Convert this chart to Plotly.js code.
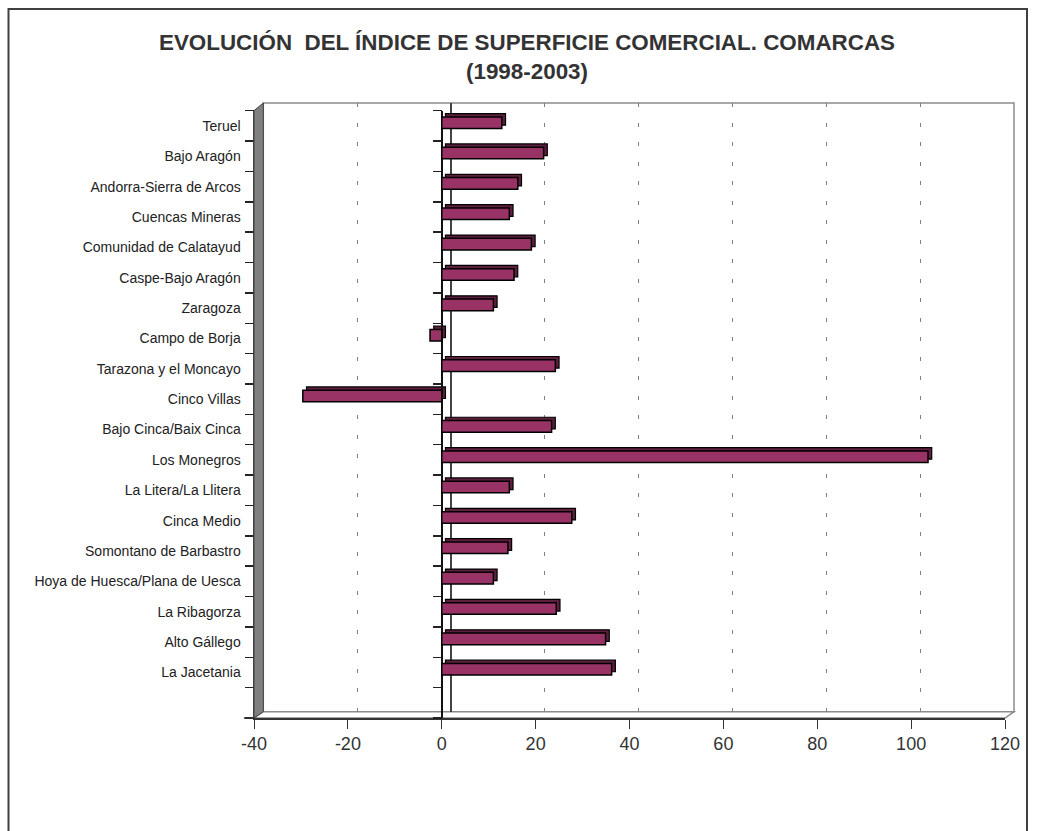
<!DOCTYPE html>
<html><head><meta charset="utf-8">
<script src="https://cdn.plot.ly/plotly-3.0.1.min.js"></script>
<style>html,body{margin:0;padding:0;background:#fff}#chart{width:1037px;height:831px}</style>
</head><body><div id="chart"></div><script>
// Data (top to bottom as in the chart)
const comarcas = [
  "Teruel", "Bajo Aragón", "Andorra-Sierra de Arcos", "Cuencas Mineras",
  "Comunidad de Calatayud", "Caspe-Bajo Aragón", "Zaragoza", "Campo de Borja",
  "Tarazona y el Moncayo", "Cinco Villas", "Bajo Cinca/Baix Cinca", "Los Monegros",
  "La Litera/La Llitera", "Cinca Medio", "Somontano de Barbastro",
  "Hoya de Huesca/Plana de Uesca", "La Ribagorza", "Alto Gállego", "La Jacetania"
];
const indice = [
  12.8, 21.7, 16.2, 14.4,
  19.1, 15.4, 11.0, -2.5,
  24.2, -29.6, 23.4, 103.6,
  14.4, 27.7, 14.1,
  11.0, 24.4, 34.9, 36.2
];
const xTickVals = [-40, -20, 0, 20, 40, 60, 80, 100, 120];
const xTickText = ["-40", "-20", "0", "20", "40", "60", "80", "100", "120"];
const xRange = [-40, 120];
const titleText = "EVOLUCIÓN \u00a0DEL ÍNDICE DE SUPERFICIE COMERCIAL. COMARCAS<br>(1998-2003)";

// Layout geometry (pixels -> paper fractions)
const L = 254, R = 23, T = 103, B = 113, W = 1037, H = 831;
const PW = W - L - R, PH = H - T - B;
const px = x => (x - L) / PW;
const py = y => (H - B - y) / PH;

const order = comarcas.slice().reverse();
const yRange = [-1.5, comarcas.length - 0.5];
const barW = 0.382, barOff = -0.086;

const FRONT_X = [px(254), px(1005)];
const FRONT_Y = [py(718), py(110.7)];
const BACK_X = [px(263.3), px(1014)];
const BACK_Y = [py(711.7), py(103)];
const SH_DX = 3.7 / PW, SH_DY = 3.3 / PH;

const FONT = "Liberation Sans, Arial, sans-serif";
const labelFont = {family: FONT, size: 14, color: "#222"};

const traces = [
  { // anchors the back wall (draws nothing)
    type: "scatter", mode: "none", x: indice, y: comarcas, xaxis: "x", yaxis: "y",
    hoverinfo: "skip", showlegend: false
  },
  { // depth faces of the 3D bars
    type: "bar", orientation: "h", x: indice, y: comarcas,
    xaxis: "x2", yaxis: "y2", width: barW, offset: barOff,
    marker: {color: "#5e1f3f", line: {color: "#000", width: 1.2}},
    hoverinfo: "skip", showlegend: false
  },
  { // front faces
    type: "bar", orientation: "h", x: indice, y: comarcas,
    xaxis: "x3", yaxis: "y3", width: barW, offset: barOff,
    marker: {color: "#993366", line: {color: "#000", width: 1.5}},
    showlegend: false
  },
  { // anchors the tick axis on the zero line (draws nothing)
    type: "scatter", mode: "none", x: indice, y: comarcas, xaxis: "x3", yaxis: "y4",
    hoverinfo: "skip", showlegend: false
  },
  { // anchors the tick axis on the left edge (draws nothing)
    type: "scatter", mode: "none", x: indice, y: comarcas, xaxis: "x3", yaxis: "y5",
    hoverinfo: "skip", showlegend: false
  }
];

const hiddenCat = {type: "category", categoryorder: "array", categoryarray: order,
  range: yRange, showgrid: false, zeroline: false, showticklabels: false, ticks: "", showline: false};

const tickAxis = pos => ({overlaying: "y3", anchor: "free", position: pos, side: "left",
  type: "linear", range: yRange, tick0: -0.5, dtick: 1, showgrid: false, zeroline: false,
  showticklabels: false, ticks: "outside", ticklen: 9, tickcolor: "#222", tickwidth: 1.5,
  showline: false});

const layout = {
  width: W, height: H,
  margin: {l: L, r: R, t: T, b: B, pad: 0},
  paper_bgcolor: "#fff", plot_bgcolor: "rgba(0,0,0,0)",
  showlegend: false, hovermode: false,
  title: {
    text: titleText, x: 527 / W, xref: "container", xanchor: "center",
    y: 1 - 50 / H, yref: "container", yanchor: "top", pad: {t: 0, b: 0},
    font: {family: FONT, size: 22.4, color: "#333", weight: "bold"}
  },
  // back wall
  xaxis: {domain: BACK_X, range: xRange, anchor: "y", tickvals: xTickVals,
    showgrid: true, gridcolor: "#808080", gridwidth: 1, griddash: "4px,15.5px",
    zeroline: true, zerolinecolor: "#444", zerolinewidth: 1.5,
    showticklabels: false, ticks: "", showline: false},
  yaxis: Object.assign({domain: BACK_Y, anchor: "x"}, hiddenCat),
  // shadow
  xaxis2: {domain: [FRONT_X[0] + SH_DX, FRONT_X[1] + SH_DX], range: xRange, anchor: "y2",
    showgrid: false, zeroline: false, showticklabels: false, ticks: "", showline: false},
  yaxis2: Object.assign({domain: [FRONT_Y[0] + SH_DY, FRONT_Y[1] + SH_DY], anchor: "x2"}, hiddenCat),
  // front
  xaxis3: {domain: FRONT_X, range: xRange, anchor: "y3", tickvals: xTickVals, ticktext: xTickText,
    showgrid: false, zeroline: true, zerolinecolor: "#111", zerolinewidth: 1.5,
    showline: true, linecolor: "#333", linewidth: 1.5,
    ticks: "outside", ticklen: 9, tickcolor: "#333", tickwidth: 1,
    tickfont: {family: FONT, size: 18, color: "#333"}},
  yaxis3: {domain: FRONT_Y, anchor: "x3", type: "category", categoryorder: "array",
    categoryarray: order, range: yRange,
    showgrid: false, zeroline: false, showline: true, linecolor: "#404040", linewidth: 1.5,
    ticks: "outside", ticklen: 9, tickcolor: "rgba(0,0,0,0)",
    tickfont: labelFont, automargin: false},
  yaxis4: tickAxis(px(442.3)),
  yaxis5: tickAxis(0),
  shapes: [
    // outer frame
    {type: "rect", xref: "paper", yref: "paper", x0: px(8.5), x1: px(1027), y0: py(845), y1: py(9),
      line: {color: "#404040", width: 2}, fillcolor: "rgba(0,0,0,0)", layer: "below"},
    // back wall outline
    {type: "rect", xref: "paper", yref: "paper", x0: BACK_X[0], x1: BACK_X[1], y0: BACK_Y[0], y1: BACK_Y[1],
      line: {color: "#8c8c8c", width: 1.5}, fillcolor: "rgba(0,0,0,0)", layer: "below"},
    // floor
    {type: "path", xref: "paper", yref: "paper", layer: "below",
      path: `M ${FRONT_X[0]},${FRONT_Y[0]} L ${BACK_X[0]},${BACK_Y[0]} L ${BACK_X[1]},${BACK_Y[0]} L ${FRONT_X[1]},${FRONT_Y[0]} Z`,
      fillcolor: "#ffffff", line: {color: "#8c8c8c", width: 1.5}},
    // left side wall
    {type: "path", xref: "paper", yref: "paper", layer: "above",
      path: `M ${FRONT_X[0]},${FRONT_Y[1]} L ${BACK_X[0]},${BACK_Y[1]} L ${BACK_X[0]},${BACK_Y[0]} L ${FRONT_X[0]},${FRONT_Y[0]} Z`,
      fillcolor: "#808080", line: {color: "#404040", width: 1}},
    // short extension of the floor axis to the left
    {type: "line", xref: "paper", yref: "paper", layer: "above",
      x0: px(244), x1: FRONT_X[0], y0: FRONT_Y[0], y1: FRONT_Y[0],
      line: {color: "#333", width: 1.5}}
  ]
};

Plotly.newPlot("chart", traces, layout, {staticPlot: true, displayModeBar: false});
</script></body></html>
